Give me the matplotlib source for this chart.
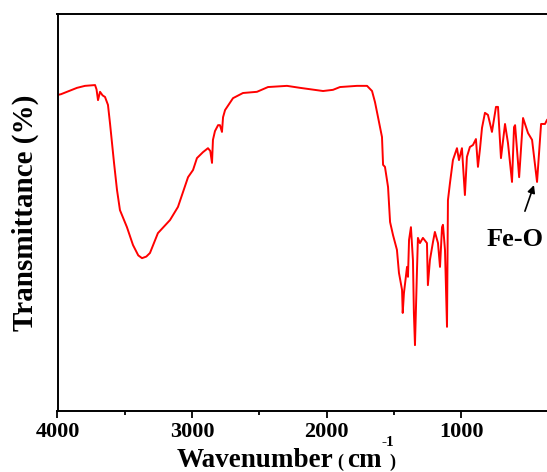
import matplotlib
matplotlib.use("Agg")
import matplotlib.pyplot as plt

wavenumber = [4000, 3974, 3855, 3796, 3721, 3710, 3699, 3684, 3665, 3647, 3625, 3610, 3595,
              3580, 3558, 3536, 3484, 3439, 3400, 3372, 3340, 3313, 3254, 3164, 3105, 3030,
              2993, 2964, 2919, 2882, 2865, 2852, 2845, 2830, 2807, 2793, 2778, 2770, 2755,
              2696, 2622, 2518, 2436, 2295, 2198, 2027, 1953, 1901, 1775, 1700, 1663, 1641,
              1619, 1589, 1581, 1567, 1552, 1544, 1529, 1507, 1478, 1463, 1440, 1435, 1426,
              1403, 1396, 1388, 1374, 1359, 1352, 1344, 1329, 1322, 1307, 1285, 1255, 1248,
              1233, 1210, 1196, 1173, 1158, 1143, 1136, 1121, 1106, 1099, 1084, 1062, 1032,
              1017, 995, 973, 958, 936, 913, 891, 876, 861, 846, 824, 802, 787, 772, 742,
              727, 705, 675, 653, 623, 608, 600, 570, 541, 504, 474, 437, 407, 378, 363]
transmittance = [79.6, 79.8, 81.4, 81.9, 82.1, 81.0, 78.3, 80.4, 79.5, 79.1, 77.1, 72.5, 67.5,
                 62.5, 55.7, 50.6, 46.3, 41.8, 39.2, 38.5, 38.9, 39.8, 44.8, 48.1, 51.4, 58.9,
                 60.7, 63.7, 65.2, 66.2, 65.5, 62.5, 68.3, 70.5, 72.0, 72.0, 70.3, 74.0, 75.8,
                 78.8, 80.1, 80.4, 81.6, 81.9, 81.4, 80.6, 80.9, 81.6, 81.9, 81.9, 80.6, 77.8,
                 74.1, 69.0, 62.0, 61.5, 58.2, 56.4, 47.6, 44.3, 40.6, 34.8, 30.5, 24.7, 29.7,
                 36.3, 33.8, 43.1, 46.3, 38.0, 24.7, 16.6, 35.5, 43.6, 42.3, 43.6, 42.3, 31.7,
                 38.0, 42.6, 45.1, 42.3, 36.3, 46.3, 46.9, 40.6, 21.2, 53.1, 57.4, 63.2, 66.2,
                 63.2, 66.2, 54.4, 64.0, 66.5, 67.0, 68.5, 61.5, 66.0, 71.3, 75.1, 74.6, 72.5,
                 70.3, 76.6, 76.6, 63.7, 72.3, 67.5, 57.7, 71.5, 72.0, 58.9, 73.8, 70.0, 68.3,
                 57.7, 72.3, 72.3, 73.3]
major_ticks = [4000, 3000, 2000, 1000]
minor_ticks = [3500, 2500, 1500]
annotation = "Fe-O"
annot_head = (460, 56.9)
annot_text = (601, 43.1)

plt.rcParams['font.family'] = ['Liberation Serif', 'DejaVu Serif']
plt.rcParams['font.weight'] = 'bold'

W, H = 547, 472
fig = plt.figure(figsize=(W / 100, H / 100), dpi=100)
ax = fig.add_axes([57.5 / W, 61 / H, 1 - 57.5 / W, 397 / H])
ax.plot(wavenumber, transmittance, color='#ff0000', lw=1.4)
ax.set_xlim(4000, 363)
ax.set_ylim(0, 100)
ax.set_xticks(major_ticks)
ax.set_xticks(minor_ticks, minor=True)
ax.set_yticks([])
ax.spines['right'].set_visible(False)
for s in ['left', 'top', 'bottom']:
    ax.spines[s].set_linewidth(1.4)
ax.tick_params(axis='x', which='major', direction='out', length=5, width=1.3,
               labelsize=16, pad=3)
ax.tick_params(axis='x', which='minor', direction='out', length=3, width=1.3)
for lbl in ax.get_xticklabels():
    lbl.set_fontweight('bold')

# y label
fig.text(25 / W, 1 - 212.5 / H, "Transmittance (%)", rotation=90, fontsize=21,
         fontweight='bold', ha='center', va='center')

# x label built from pieces (small parentheses, superscript)
base = 1 - 467 / H
fig.text(177 / W, base, "Wavenumber", fontsize=19.5, fontweight='bold', va='baseline', ha='left')
fig.text(337 / W, base, "(", fontsize=13, fontweight='bold', va='baseline', ha='left')
fig.text(347 / W, base, "cm", fontsize=19.5, fontweight='bold', va='baseline', ha='left')
fig.text(381 / W, 1 - 446 / H, "-1", fontsize=11, fontweight='bold', va='baseline', ha='left')
fig.text(389 / W, base, ")", fontsize=13, fontweight='bold', va='baseline', ha='left')

ax.annotate(annotation, xy=annot_head, xytext=annot_text,
            fontsize=19, fontweight='bold', ha='center', va='center',
            arrowprops=dict(arrowstyle='-|>', color='black', lw=1.2,
                            mutation_scale=11, shrinkA=11, shrinkB=0))
fig.savefig("out.png", dpi=100)
